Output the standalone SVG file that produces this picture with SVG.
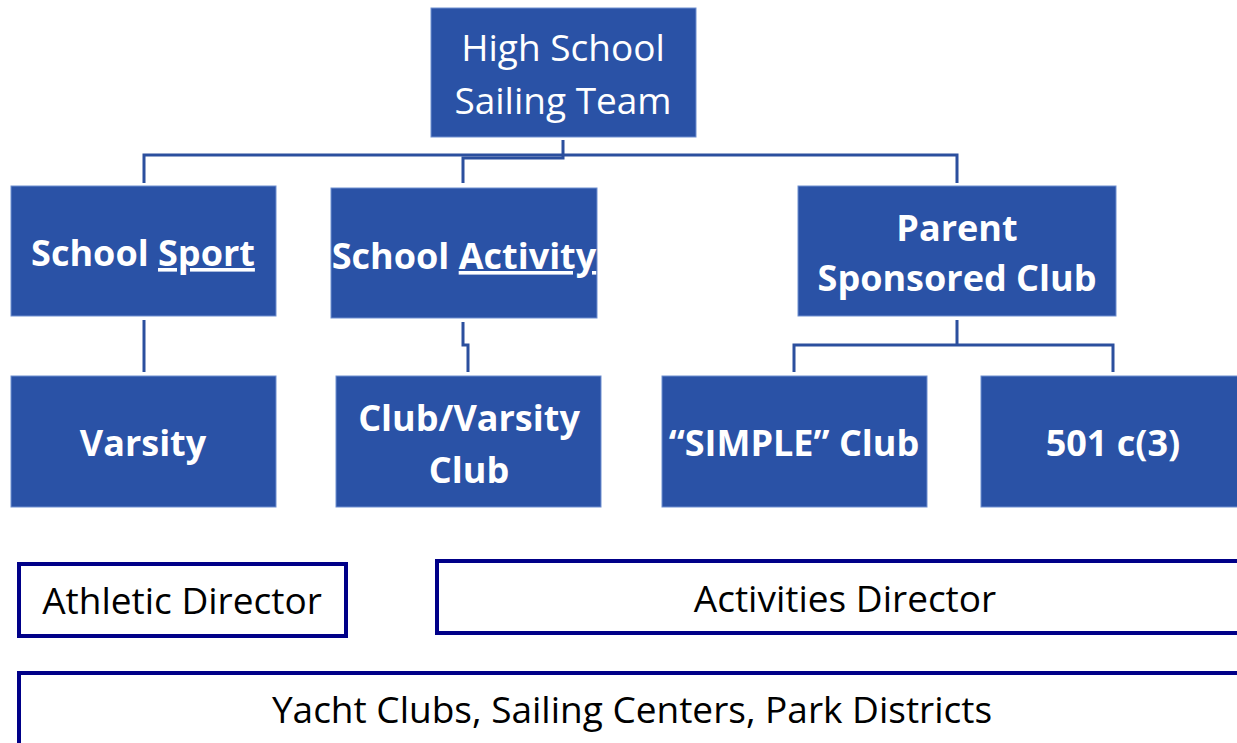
<svg xmlns="http://www.w3.org/2000/svg" width="1237" height="743" viewBox="0 0 1237 743">
<style>
.box{fill:#2A52A6;stroke:#6F8FD0;stroke-width:1}
.ob{fill:#ffffff;stroke:#000088;stroke-width:4}
.wt{fill:#ffffff;font-family:"Open Sans","Noto Sans",sans-serif;font-size:37px;text-anchor:middle}
.bt{fill:#ffffff;font-family:"Open Sans","Noto Sans",sans-serif;font-size:36px;font-weight:bold;text-anchor:middle}
.kt{fill:#000000;font-family:"Open Sans","Noto Sans",sans-serif;font-size:37px;text-anchor:middle}
.cn{fill:none;stroke:#2B4F9E;stroke-width:3}
</style>
<rect width="1237" height="743" fill="#ffffff"/>
<g id="connectors">
<path class="cn" d="M563,140 V158 H463 V183"/>
<path class="cn" d="M144,183 V155 H957 V183"/>
<path class="cn" d="M144,320 V372"/>
<path class="cn" d="M463,322 V345 H468 V372"/>
<path class="cn" d="M957,320 V345 M794,372 V345 H1113 V372"/>
</g>
<g id="n-top">
<rect class="box" x="431" y="8" width="265" height="129"/>
<text class="wt" x="563" y="61">High School</text>
<text class="wt" x="563" y="114">Sailing Team</text>
</g>
<g id="n-sport">
<rect class="box" x="11" y="186" width="265" height="130"/>
<text class="bt" x="143" y="266">School <tspan text-decoration="underline">Sport</tspan></text>
</g>
<g id="n-activity">
<rect class="box" x="331" y="188" width="266" height="130"/>
<text class="bt" x="464" y="269">School <tspan text-decoration="underline">Activity</tspan></text>
</g>
<g id="n-parent">
<rect class="box" x="798" y="186" width="318" height="130"/>
<text class="bt" x="957" y="241">Parent</text>
<text class="bt" x="957" y="291">Sponsored Club</text>
</g>
<g id="n-varsity">
<rect class="box" x="11" y="376" width="265" height="131"/>
<text class="bt" x="143" y="456">Varsity</text>
</g>
<g id="n-clubvarsity">
<rect class="box" x="336" y="376" width="265" height="131"/>
<text class="bt" x="469" y="431">Club/Varsity</text>
<text class="bt" x="469" y="483">Club</text>
</g>
<g id="n-simple">
<rect class="box" x="662" y="376" width="265" height="131"/>
<text class="bt" x="794" y="456">“SIMPLE” Club</text>
</g>
<g id="n-501">
<rect class="box" x="981" y="376" width="260" height="131"/>
<text class="bt" x="1113" y="456">501 c(3)</text>
</g>
<g id="n-athletic">
<rect class="ob" x="19" y="564" width="327" height="72"/>
<text class="kt" x="182" y="614">Athletic Director</text>
</g>
<g id="n-activities">
<rect class="ob" x="437" y="561" width="806" height="72"/>
<text class="kt" x="845" y="612">Activities Director</text>
</g>
<g id="n-yacht">
<rect class="ob" x="19" y="673" width="1224" height="76"/>
<text class="kt" x="632" y="723">Yacht Clubs, Sailing Centers, Park Districts</text>
</g>
</svg>
